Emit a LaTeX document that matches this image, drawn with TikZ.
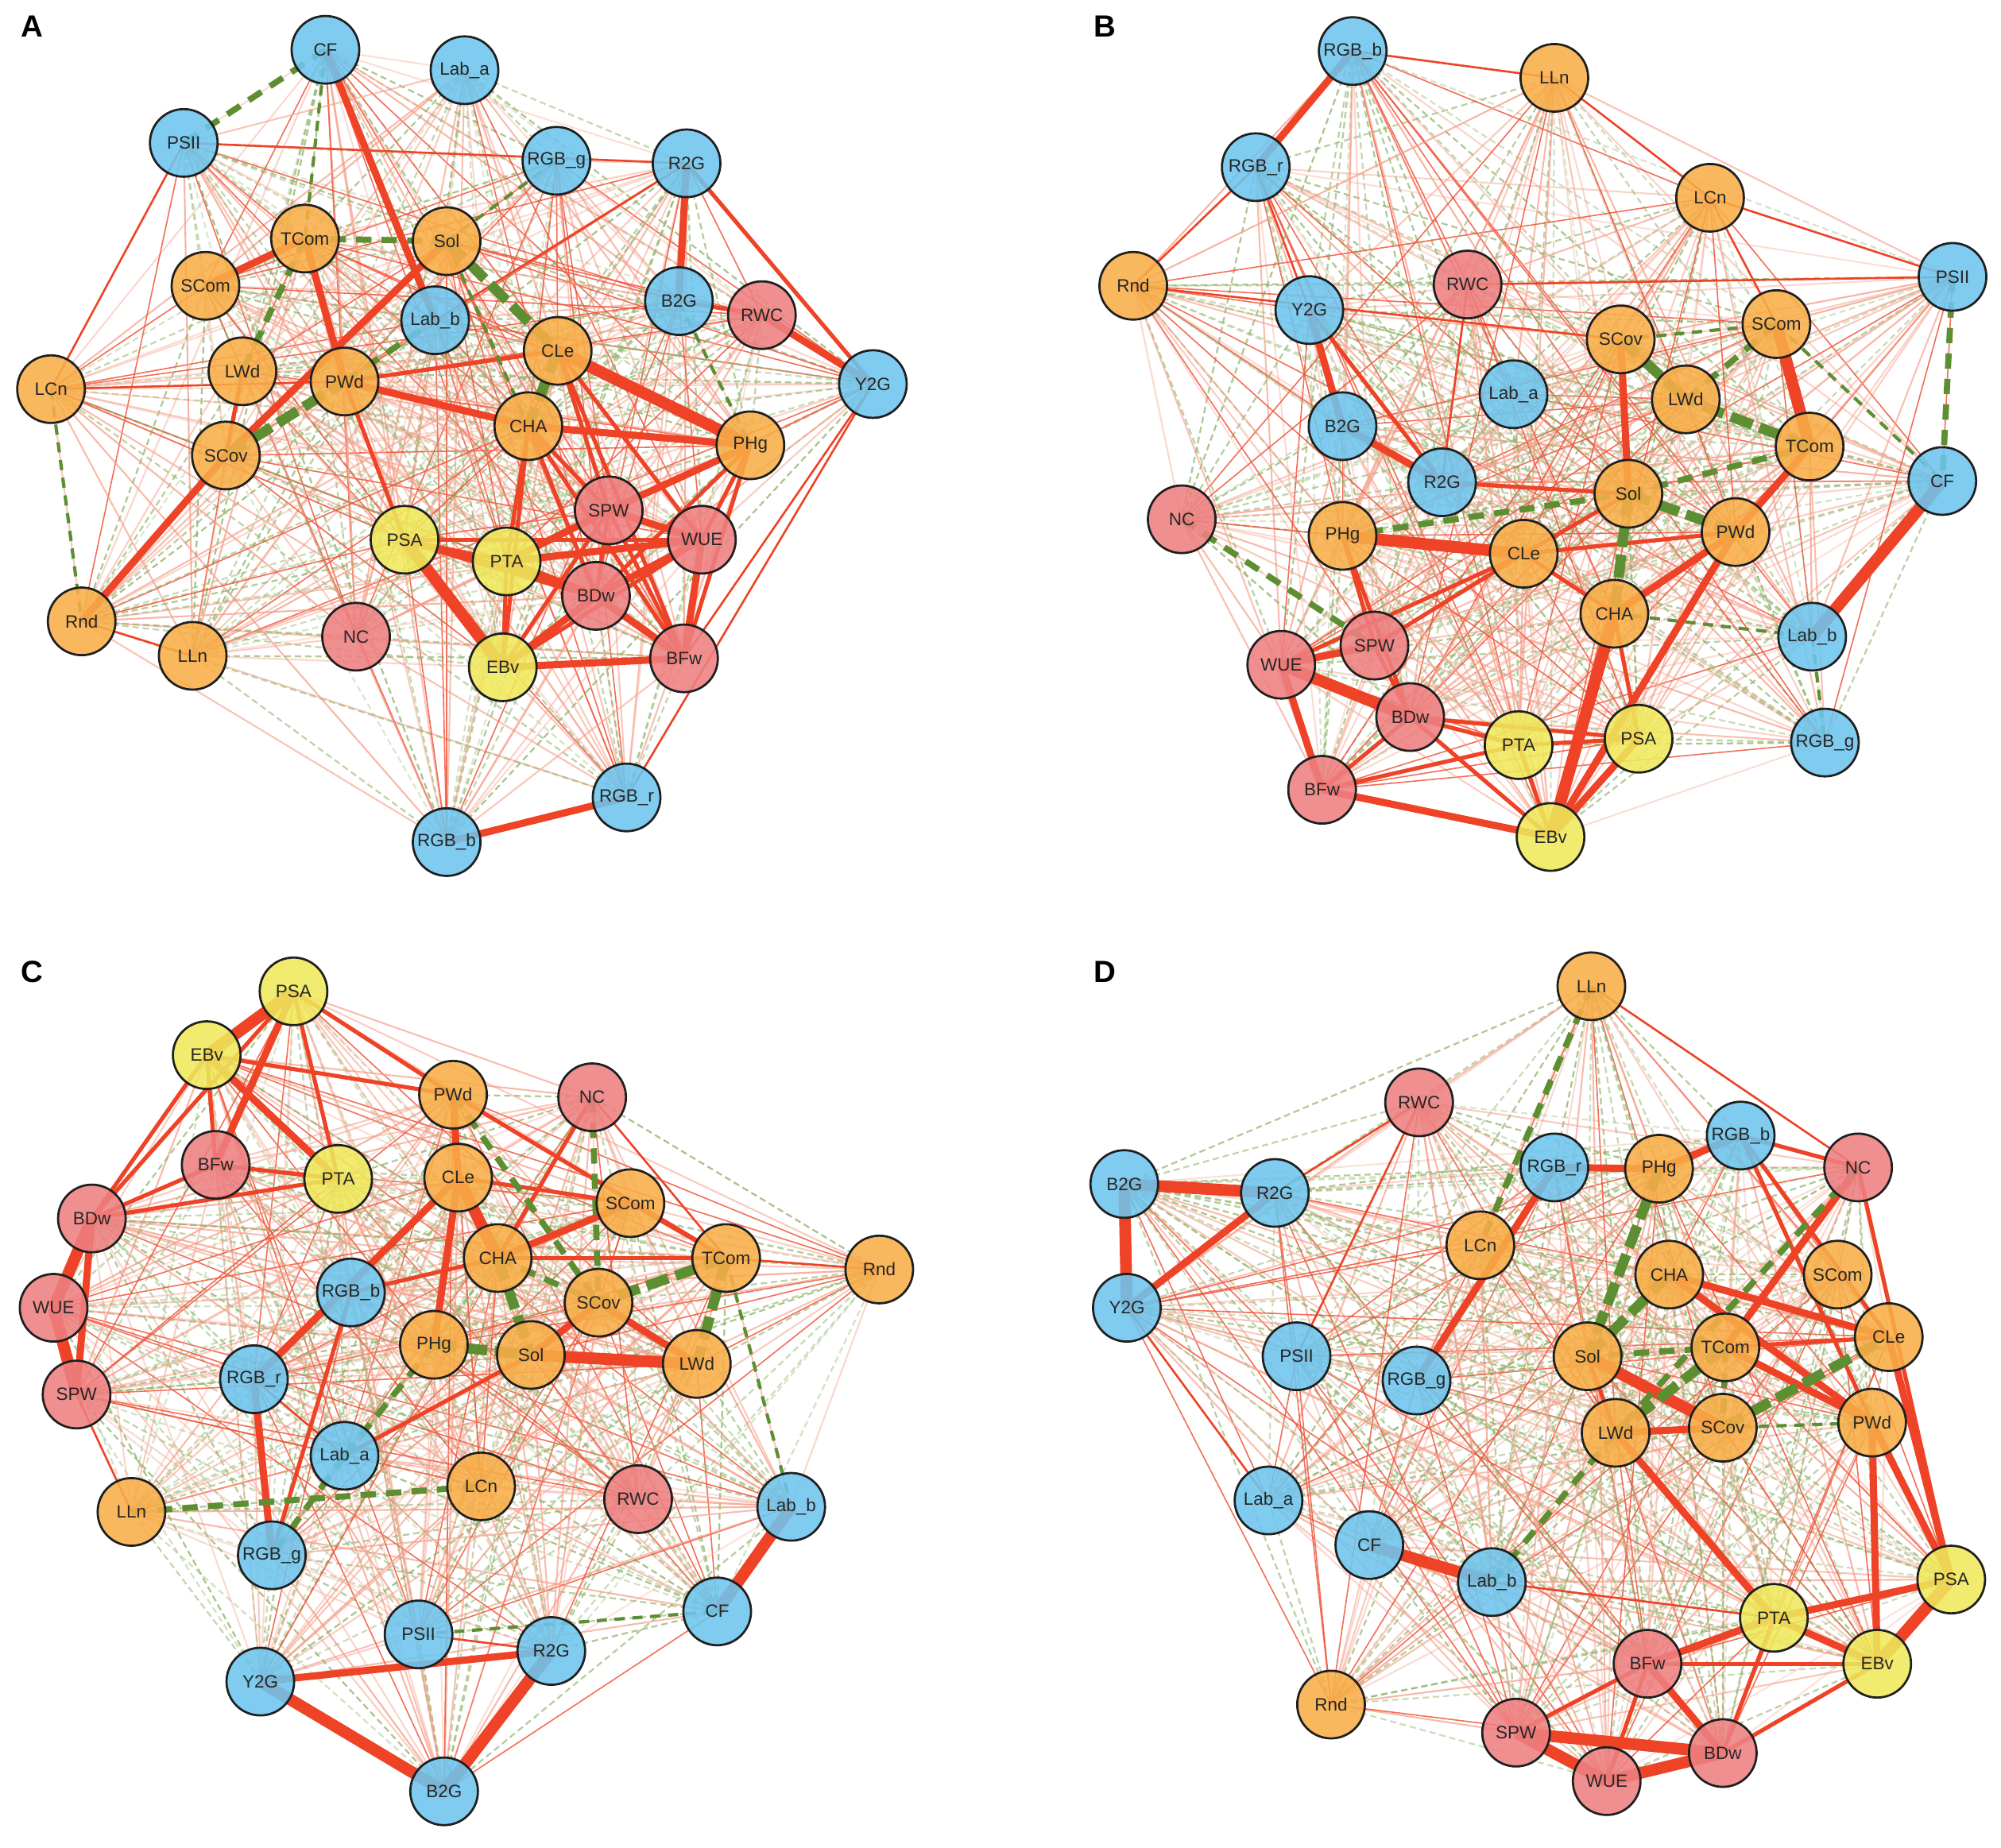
\documentclass[tikz,border=0pt]{standalone}
\usepackage{fontspec}
\setmainfont{Liberation Sans}
\definecolor{nblue}{HTML}{6DC5EE}
\definecolor{norange}{HTML}{F8AE48}
\definecolor{nred}{HTML}{EE8081}
\definecolor{nyellow}{HTML}{EFE95C}
\definecolor{ered}{HTML}{EE4326}
\definecolor{epink}{HTML}{F4A08A}
\definecolor{egreen}{HTML}{5E8E32}
\definecolor{epgreen}{HTML}{93B46C}
\pgfdeclarelayer{bg}
\pgfsetlayers{bg,main}
\tikzset{
  vtx/.style={circle, draw=black!88, line width=0.85pt, minimum size=26.5pt, inner sep=0pt,
    fill opacity=0.88, text opacity=1, text=black!85, font=\fontsize{7}{7}\selectfont},
  vb/.style={vtx, fill=nblue}, vo/.style={vtx, fill=norange},
  vr/.style={vtx, fill=nred}, vy/.style={vtx, fill=nyellow},
  e1/.style={draw=ered, line width=0.8pt},
  e2/.style={draw=ered, line width=1.6pt},
  e3/.style={draw=ered, line width=2.8pt},
  e4/.style={draw=ered, line width=4.6pt},
  g2/.style={draw=egreen, line width=1.3pt, dash pattern=on 4pt off 3pt},
  g3/.style={draw=egreen, line width=2.4pt, dash pattern=on 6pt off 4pt},
  g4/.style={draw=egreen, line width=4pt, dash pattern=on 9pt off 3pt},
  bgg/.style={draw=epgreen, line width=0.7pt, dash pattern=on 2.5pt off 1.5pt},
  bgp/.style={draw=epink, line width=0.65pt},
  bgr/.style={draw=ered!90!white, line width=0.5pt, draw opacity=0.85},
  plabel/.style={anchor=base west, inner sep=0pt, font=\bfseries\fontsize{12}{12}\selectfont}
}
\def\nlist{CF,Laba,Labb,PSII,RGBr,RGBg,RGBb,R2G,B2G,Y2G,TCom,Sol,SCom,SCov,CLe,LWd,PWd,LCn,LLn,CHA,PHg,Rnd,RWC,SPW,WUE,BDw,BFw,NC,PSA,PTA,EBv}
\newcommand\webpairs[1]{%
  \foreach \u [count=\ii] in \nlist {%
    \foreach \v [count=\jj] in \nlist {%
      \ifnum\jj>\ii\relax
        \pgfmathsetmacro\rr{rnd}%
        \pgfmathsetmacro\ro{0.3+0.5*rnd}%
        \ifdim\rr pt<0.40pt
          \draw[bgg, draw opacity=\ro] (#1\u.center) -- (#1\v.center);
        \else\ifdim\rr pt<0.84pt
          \draw[bgp, draw opacity=\ro] (#1\u.center) -- (#1\v.center);
        \else
          \draw[bgr] (#1\u.center) -- (#1\v.center);
        \fi\fi
      \fi
    }%
  }%
}
\begin{document}
\begin{tikzpicture}[x=0.5pt, y=-0.5pt]
\useasboundingbox (0,0) rectangle (1568,1448);
% ---------- panel labels
\node[plabel] (lA) at (16,29) {A};
\node[plabel] (lB) at (857,29) {B};
\node[plabel] (lC) at (16,770) {C};
\node[plabel] (lD) at (857,770) {D};
% ---------- Panel A nodes
\foreach \n/\s/\x/\y/\t in {CF/vb/255/39/CF, Laba/vb/364/55/Lab\_a, PSII/vb/144/112/PSII,
  RGBg/vb/436/126/RGB\_g, R2G/vb/538/128/R2G, TCom/vo/239/187/TCom, Sol/vo/350/189/Sol,
  SCom/vo/161/224/SCom, Labb/vb/341/251/Lab\_b, B2G/vb/532/236/B2G, RWC/vr/597/247/RWC,
  CLe/vo/437/275/CLe, LWd/vo/190/291/LWd, PWd/vo/270/299/PWd, LCn/vo/40/305/LCn,
  Y2G/vb/684/301/Y2G, CHA/vo/414/334/CHA, PHg/vo/588/349/PHg, SCov/vo/177/357/SCov,
  SPW/vr/477/400/SPW, WUE/vr/550/423/WUE, PSA/vy/317/423/PSA, PTA/vy/397/440/PTA,
  BDw/vr/467/467/BDw, Rnd/vo/64/487/Rnd, LLn/vo/151/514/LLn, NC/vr/279/499/NC,
  EBv/vy/394/523/EBv, BFw/vr/536/516/BFw, RGBr/vb/491/625/RGB\_r, RGBb/vb/350/660/RGB\_b}
  {\node[\s] (a\n) at (\x,\y) {\t};}
% ---------- Panel B nodes
\foreach \n/\s/\x/\y/\t in {RGBb/vb/1060/40/RGB\_b, LLn/vo/1218/61/LLn, RGBr/vb/984/131/RGB\_r,
  LCn/vo/1340/155/LCn, Rnd/vo/888/224/Rnd, PSII/vb/1530/217/PSII, Y2G/vb/1026/243/Y2G,
  RWC/vr/1150/223/RWC, SCov/vo/1270/266/SCov, SCom/vo/1392/254/SCom, LWd/vo/1321/313/LWd,
  Laba/vb/1186/309/Lab\_a, B2G/vb/1052/334/B2G, TCom/vo/1418/350/TCom, R2G/vb/1130/378/R2G,
  Sol/vo/1276/387/Sol, CF/vb/1522/377/CF, NC/vr/926/407/NC, PHg/vo/1052/420/PHg,
  CLe/vo/1194/434/CLe, PWd/vo/1360/417/PWd, CHA/vo/1265/481/CHA, Labb/vb/1420/499/Lab\_b,
  SPW/vr/1077/506/SPW, WUE/vr/1004/521/WUE, BDw/vr/1105/562/BDw, PTA/vy/1190/584/PTA,
  PSA/vy/1284/579/PSA, RGBg/vb/1430/582/RGB\_g, BFw/vr/1036/619/BFw, EBv/vy/1215/656/EBv}
  {\node[\s] (b\n) at (\x,\y) {\t};}
% ---------- Panel C nodes
\foreach \n/\s/\x/\y/\t in {PSA/vy/230/777/PSA, EBv/vy/162/827/EBv, PWd/vo/355/858/PWd,
  NC/vr/464/860/NC, BFw/vr/169/913/BFw, PTA/vy/265/924/PTA, CLe/vo/359/923/CLe,
  SCom/vo/494/943/SCom, BDw/vr/72/955/BDw, CHA/vo/390/986/CHA, TCom/vo/569/986/TCom,
  Rnd/vo/689/995/Rnd, RGBb/vb/275/1013/RGB\_b, SCov/vo/469/1021/SCov, WUE/vr/42/1025/WUE,
  PHg/vo/340/1054/PHg, Sol/vo/416/1062/Sol, LWd/vo/546/1069/LWd, RGBr/vb/199/1081/RGB\_r,
  SPW/vr/60/1093/SPW, Laba/vb/270/1141/Lab\_a, LCn/vo/377/1165/LCn, RWC/vr/500/1175/RWC,
  Labb/vb/620/1181/Lab\_b, LLn/vo/103/1185/LLn, RGBg/vb/213/1219/RGB\_g, CF/vb/562/1263/CF,
  PSII/vb/328/1281/PSII, R2G/vb/432/1294/R2G, Y2G/vb/204/1318/Y2G, B2G/vb/348/1404/B2G}
  {\node[\s] (c\n) at (\x,\y) {\t};}
% ---------- Panel D nodes
\foreach \n/\s/\x/\y/\t in {LLn/vo/1247/773/LLn, RWC/vr/1112/864/RWC, RGBb/vb/1364/890/RGB\_b,
  NC/vr/1456/915/NC, RGBr/vb/1218/915/RGB\_r, PHg/vo/1300/916/PHg, B2G/vb/881/928/B2G,
  R2G/vb/999/935/R2G, LCn/vo/1160/976/LCn, CHA/vo/1308/999/CHA, SCom/vo/1440/999/SCom,
  Y2G/vb/883/1025/Y2G, CLe/vo/1480/1048/CLe, TCom/vo/1352/1056/TCom, PSII/vb/1016/1063/PSII,
  Sol/vo/1244/1063/Sol, RGBg/vb/1110/1082/RGB\_g, PWd/vo/1467/1115/PWd, LWd/vo/1266/1123/LWd,
  SCov/vo/1350/1119/SCov, Laba/vb/994/1176/Lab\_a, CF/vb/1073/1211/CF, Labb/vb/1169/1240/Lab\_b,
  PSA/vy/1529/1238/PSA, PTA/vy/1390/1268/PTA, EBv/vy/1471/1304/EBv, BFw/vr/1291/1304/BFw,
  Rnd/vo/1043/1336/Rnd, SPW/vr/1188/1358/SPW, BDw/vr/1350/1374/BDw, WUE/vr/1259/1396/WUE}
  {\node[\s] (d\n) at (\x,\y) {\t};}
% ---------- edges
\begin{pgfonlayer}{bg}
\pgfmathsetseed{4711}
\webpairs{a}
\webpairs{b}
\webpairs{c}
\webpairs{d}
% Panel A strong edges
\foreach \s/\u/\v in {e3/CF/Labb, e3/TCom/SCom, e3/TCom/PWd, e3/Sol/SCov, e3/SCov/Rnd,
  e2/LWd/SCov, e2/PWd/CLe, e3/PWd/CHA, e2/PWd/PSA, e4/PSA/EBv, e2/PSA/PTA, e3/PSA/BDw,
  e2/PSA/WUE, e2/PTA/EBv, e3/PTA/BDw, e3/PTA/SPW, e3/PTA/WUE, e3/EBv/BFw, e3/EBv/BDw,
  e2/EBv/SPW, e2/EBv/WUE, e2/EBv/CHA, e3/BDw/BFw, e3/BDw/WUE, e3/SPW/WUE, e2/SPW/BFw,
  e3/WUE/BFw, e2/SPW/BDw, e4/CLe/PHg, e3/CHA/PHg, e3/PHg/SPW, e2/PHg/BDw, e2/PHg/WUE,
  e2/PHg/BFw, e2/CLe/BFw, e2/CLe/WUE, e2/CHA/BFw, e2/CHA/BDw, e2/CHA/SPW, e2/CHA/PTA,
  e2/CLe/SPW, e2/B2G/RWC, e3/RWC/Y2G, e3/R2G/B2G, e2/R2G/Y2G, e3/RGBr/RGBb, e1/PSII/LCn,
  e1/Y2G/RGBr, e1/Y2G/BFw, e1/LCn/PWd, e1/Rnd/LLn, e1/PSII/R2G, e1/R2G/Labb,
  g3/CF/PSII, g3/TCom/Sol, g4/Sol/CLe, g4/CLe/CHA, g4/SCov/PWd, g3/PWd/Labb, g3/TCom/LWd,
  g2/Sol/RGBg, g2/B2G/PHg, g2/LCn/Rnd, g2/CF/TCom, g2/Sol/CHA}
  {\draw[\s] (a\u.center) -- (a\v.center);}
% Panel B strong edges
\foreach \s/\u/\v in {e3/RGBb/RGBr, e3/Y2G/B2G, e2/Y2G/R2G, e3/B2G/R2G, e4/PHg/CLe,
  e2/CLe/PWd, e2/CLe/Sol, e2/R2G/Sol, e2/CLe/CHA, e3/SCov/Sol, e4/SCom/TCom, e3/TCom/PWd,
  e3/PWd/CHA, e4/CHA/EBv, e3/PWd/EBv, e3/PSA/EBv, e2/CHA/PSA, e4/CF/Labb, e3/WUE/SPW,
  e4/WUE/BDw, e3/WUE/BFw, e2/SPW/BDw, e2/BDw/EBv, e3/BFw/EBv, e2/BDw/PTA, e2/BFw/PTA,
  e2/BFw/BDw, e2/SPW/PHg, e2/SPW/CLe, e2/WUE/CLe, e2/BDw/PSA, e2/PTA/EBv, e2/PTA/PSA,
  e2/BDw/PHg, e1/RWC/R2G, e1/RGBr/Y2G, e1/LLn/RGBb, e1/LCn/SCom, e1/LCn/PSII,
  e1/RWC/PSII, e1/Rnd/SCov, e1/Rnd/RGBr, e1/LLn/LCn,
  g3/PSII/CF, g3/NC/SPW, g4/Sol/CHA, g4/Sol/PWd, g3/Sol/TCom, g4/TCom/LWd, g4/SCov/LWd,
  g3/SCom/LWd, g2/SCov/SCom, g3/PHg/Sol, g2/SCom/CF, g2/Labb/RGBg, g2/CHA/Labb}
  {\draw[\s] (b\u.center) -- (b\v.center);}
% Panel C strong edges
\foreach \s/\u/\v in {e4/BDw/WUE, e4/WUE/SPW, e3/BDw/SPW, e4/PSA/EBv, e3/PSA/BFw,
  e2/PSA/PTA, e3/EBv/PTA, e2/EBv/BFw, e2/EBv/BDw, e2/BFw/BDw, e2/BFw/PTA, e2/BDw/PTA,
  e2/PSA/PWd, e2/EBv/PWd, e2/PSA/BDw, e3/PWd/CLe, e4/CLe/CHA, e3/PHg/CLe, e2/CHA/RGBb,
  e3/RGBr/CLe, e3/RGBr/RGBg, e2/RGBb/RGBg, e2/NC/CHA, e2/PWd/TCom, e1/NC/TCom,
  e3/CHA/SCom, e2/CLe/SCom, e2/CHA/TCom, e4/Sol/LWd, e3/SCov/LWd, e3/Sol/SCov,
  e2/Laba/Sol, e4/Y2G/B2G, e4/B2G/R2G, e3/Y2G/R2G, e4/Labb/CF, e1/PSII/R2G, e1/TCom/Rnd,
  e1/LLn/SPW, e1/Laba/RGBr, e2/SCom/TCom,
  g4/CHA/Sol, g4/TCom/LWd, g4/PHg/Sol, g3/CHA/SCov, g3/NC/SCov, g3/PWd/SCov, g3/LLn/LCn,
  g3/Laba/RGBg, g3/Laba/PHg, g2/PSII/CF, g2/TCom/Labb, g4/TCom/SCov}
  {\draw[\s] (c\u.center) -- (c\v.center);}
% Panel D strong edges
\foreach \s/\u/\v in {e4/B2G/R2G, e4/B2G/Y2G, e3/R2G/Y2G, e3/RGBr/PHg, e3/PHg/RGBb,
  e3/RGBr/RGBg, e4/CF/Labb, e4/Sol/SCov, e3/LWd/SCov, e3/LWd/PTA, e3/CHA/CLe, e3/CHA/PWd,
  e3/TCom/PWd, e3/TCom/NC, e2/RGBb/PWd, e2/RGBb/CLe, e2/NC/PSA, e3/CLe/PSA, e3/PWd/PSA,
  e3/PWd/EBv, e4/PSA/EBv, e3/PSA/PTA, e3/PTA/EBv, e3/BFw/PTA, e2/BFw/EBv, e3/BFw/BDw,
  e2/BFw/SPW, e2/BFw/WUE, e4/SPW/WUE, e4/WUE/BDw, e4/SPW/BDw, e2/BDw/EBv, e2/BDw/PTA,
  e1/Labb/PTA, e2/RGBb/NC, e1/R2G/RWC, e1/RWC/PSII, e1/Y2G/Laba, e1/LLn/NC,
  e2/Sol/LWd, e2/TCom/CLe,
  g3/LLn/LCn, g4/Sol/CHA, g4/PHg/Sol, g3/TCom/Sol, g4/TCom/LWd, g4/SCov/CLe, g3/NC/LWd,
  g3/Labb/LWd, g2/SCov/PWd, g3/TCom/SCov}
  {\draw[\s] (d\u.center) -- (d\v.center);}
\end{pgfonlayer}
\end{tikzpicture}
\end{document}
